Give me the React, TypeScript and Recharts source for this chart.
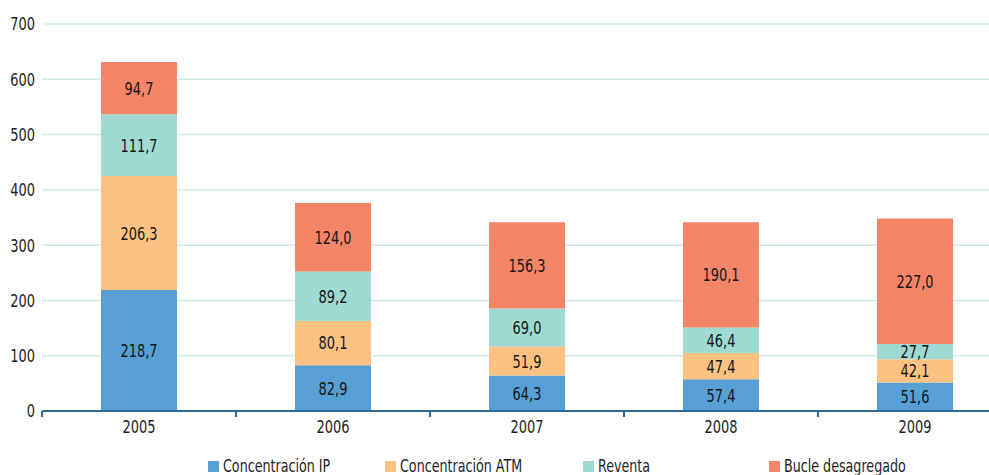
import { BarChart, Bar, XAxis, YAxis, CartesianGrid, LabelList } from 'recharts'

const years = ['2005', '2006', '2007', '2008', '2009']
const concentracionIP = [218.7, 82.9, 64.3, 57.4, 51.6]
const concentracionATM = [206.3, 80.1, 51.9, 47.4, 42.1]
const reventa = [111.7, 89.2, 69.0, 46.4, 27.7]
const bucleDesagregado = [94.7, 124.0, 156.3, 190.1, 227.0]
const yTicks = [0, 100, 200, 300, 400, 500, 600, 700]

const data = years.map((year, i) => ({
  year,
  ip: concentracionIP[i],
  atm: concentracionATM[i],
  reventa: reventa[i],
  bucle: bucleDesagregado[i],
}))

const SERIES = [
  { key: 'ip', name: 'Concentración IP', color: '#589fd5' },
  { key: 'atm', name: 'Concentración ATM', color: '#fdc282' },
  { key: 'reventa', name: 'Reventa', color: '#9ed9d2' },
  { key: 'bucle', name: 'Bucle desagregado', color: '#f58567' },
]

const FONT = "'DejaVu Sans Condensed', 'DejaVu Sans', sans-serif"
const CHART_W = 1012
const PLOT_LEFT = 42
const BAND = (CHART_W - PLOT_LEFT) / years.length
const LEGEND_X = [208, 385, 583, 769]

// squeeze the glyphs so they look like the narrow font of the original
const narrow = (origin: string) => ({
  fontFamily: FONT,
  transformBox: 'fill-box' as const,
  transformOrigin: origin,
  transform: 'scaleX(0.8)',
})

const fmt = (v: number) => v.toFixed(1).replace('.', ',')

function XTick(props: any) {
  const { x, y, payload } = props
  return (
    <g>
      <line x1={x - BAND / 2} x2={x - BAND / 2} y1={y - 8} y2={y - 2} stroke="#2f6a9c" strokeWidth={2} />
      <text x={x} y={y + 14} textAnchor="middle" fill="#1e1e1e" fontSize={18} style={narrow('center')}>
        {payload.value}
      </text>
    </g>
  )
}

function YTick(props: any) {
  const { x, y, payload } = props
  return (
    <text x={x + 1} y={y} dy="0.36em" textAnchor="end" fill="#1e1e1e" fontSize={18} style={narrow('right center')}>
      {payload.value}
    </text>
  )
}

function SegLabel(props: any) {
  const { x, y, width, height, value } = props
  return (
    <text
      x={x + width / 2}
      y={y + height / 2}
      dy="0.36em"
      textAnchor="middle"
      fill="#161616"
      fontSize={18}
      style={narrow('center')}
    >
      {fmt(Number(value))}
    </text>
  )
}

export default function App() {
  return (
    <div style={{ position: 'absolute', left: 0, top: 0, width: 989, height: 475, overflow: 'hidden', background: '#fff' }}>
      <BarChart
        width={CHART_W}
        height={475}
        data={data}
        margin={{ top: 24, right: 0, bottom: 34, left: 0 }}
        barSize={76}
      >
        <CartesianGrid vertical={false} stroke="#cdebe7" strokeWidth={1.5} />
        <YAxis
          width={PLOT_LEFT}
          domain={[0, 700]}
          ticks={yTicks}
          axisLine={false}
          tickLine={false}
          tick={<YTick />}
        />
        <XAxis
          dataKey="year"
          height={30}
          axisLine={{ stroke: '#2f6a9c', strokeWidth: 2 }}
          tickLine={false}
          tick={<XTick />}
        />
        {SERIES.map(s => (
          <Bar key={s.key} dataKey={s.key} name={s.name} stackId="a" fill={s.color} isAnimationActive={false}>
            <LabelList dataKey={s.key} content={<SegLabel />} />
          </Bar>
        ))}
      </BarChart>
      {SERIES.map((s, i) => (
        <div
          key={s.key}
          style={{
            position: 'absolute', left: LEGEND_X[i], top: 456, display: 'flex', alignItems: 'center',
            fontFamily: FONT, fontSize: 17, color: '#1e1e1e', whiteSpace: 'nowrap',
          }}
        >
          <span style={{ display: 'inline-block', width: 11, height: 11, background: s.color, marginRight: 4 }} />
          <span style={{ display: 'inline-block', transform: 'scaleX(0.83)', transformOrigin: 'left center' }}>{s.name}</span>
        </div>
      ))}
    </div>
  )
}
